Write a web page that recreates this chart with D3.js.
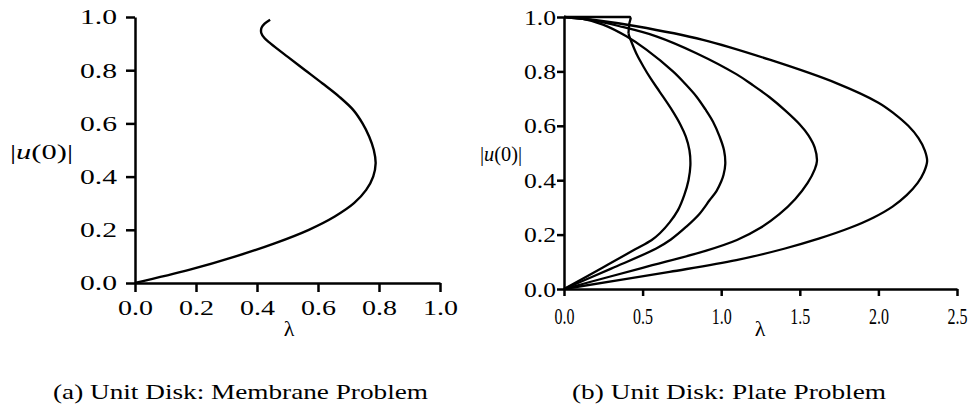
<!DOCTYPE html>
<html>
<head>
<meta charset="utf-8">
<script src="https://cdn.jsdelivr.net/npm/d3@7"></script>
<style>
  body { margin: 0; background: #fff; }
  svg text { font-family: "Liberation Serif", "Times New Roman", serif; fill: #000; }
</style>
</head>
<body>
<div id="chart"></div>
<script>
// membrane problem: one branch
var membraneLambda = [0, 0.18, 0.33, 0.46, 0.57, 0.655, 0.718, 0.758, 0.781, 0.789, 0.783, 0.768, 0.746, 0.716, 0.67, 0.615, 0.558, 0.501, 0.445, 0.425, 0.414, 0.415, 0.425, 0.443]
var membraneU = [0, 0.05, 0.10, 0.15, 0.20, 0.25, 0.30, 0.35, 0.40, 0.45, 0.50, 0.55, 0.60, 0.65, 0.70, 0.75, 0.80, 0.85, 0.90, 0.92, 0.94, 0.96, 0.975, 0.99]

// plate problem: four branches
var plate1Lambda = [0, 0.25, 0.45, 0.556, 0.61, 0.672, 0.725, 0.765, 0.792, 0.804, 0.798, 0.775, 0.74, 0.69, 0.609, 0.55, 0.503, 0.465, 0.435, 0.415, 0.41]
var plate1U = [0, 0.08, 0.145, 0.179, 0.205, 0.245, 0.29, 0.345, 0.40, 0.455, 0.51, 0.56, 0.605, 0.655, 0.725, 0.775, 0.82, 0.86, 0.90, 0.93, 0.94]
var plate1TailLambda = [0.41, 0.415, 0.424, 0.42, 0]
var plate1TailU = [0.94, 0.975, 0.995, 1.0, 1.0]

var plate2Lambda = [0, 0.3, 0.587, 0.68, 0.778, 0.86, 0.927, 0.97, 1.0, 1.015, 1.026, 1.018, 0.99, 0.948, 0.9, 0.842, 0.77, 0.693, 0.524, 0.397, 0.248, 0.121, 0]
var plate2U = [0, 0.075, 0.149, 0.182, 0.229, 0.275, 0.327, 0.36, 0.395, 0.42, 0.46, 0.51, 0.56, 0.615, 0.66, 0.708, 0.755, 0.80, 0.88, 0.929, 0.972, 0.993, 1.0]

var plate3Lambda = [0, 0.5, 0.9, 1.1, 1.25, 1.37, 1.47, 1.55, 1.595, 1.609, 1.595, 1.555, 1.5, 1.41, 1.308, 1.2, 1.096, 0.842, 0.587, 0.354, 0.163, 0]
var plate3U = [0, 0.078, 0.14, 0.18, 0.225, 0.275, 0.33, 0.39, 0.44, 0.47, 0.52, 0.565, 0.605, 0.655, 0.705, 0.75, 0.79, 0.867, 0.929, 0.966, 0.99, 1.0]

var plate4Lambda = [0, 0.672, 1.096, 1.4, 1.62, 1.82, 1.97, 2.09, 2.18, 2.25, 2.29, 2.31, 2.295, 2.255, 2.19, 2.1, 2.0, 1.732, 1.308, 0.884, 0.46, 0.206, 0]
var plate4U = [0, 0.063, 0.106, 0.148, 0.185, 0.225, 0.263, 0.303, 0.345, 0.39, 0.43, 0.47, 0.51, 0.555, 0.60, 0.645, 0.685, 0.757, 0.843, 0.916, 0.966, 0.988, 1.0]

var membraneXTicks = [0, 0.2, 0.4, 0.6, 0.8, 1.0]
var membraneYTicks = [0, 0.2, 0.4, 0.6, 0.8, 1.0]
var plateXTicks = [0, 0.5, 1.0, 1.5, 2.0, 2.5]
var plateYTicks = [0, 0.2, 0.4, 0.6, 0.8, 1.0]

var captions = ["(a) Unit Disk: Membrane Problem", "(b) Unit Disk: Plate Problem"]

function zip(xs, ys) {
    return xs.map((x, i) => { return [x, ys[i]] })
}

var svg = d3.select("#chart")
    .append("svg")
    .attr("width", 971)
    .attr("height", 407)

function draw_panel(opt) {
    var x = d3.scaleLinear().domain(opt.xDomain).range(opt.xRange)
    var y = d3.scaleLinear().domain([0, 1]).range(opt.yRange)
    var g = svg.append("g")

    var line = d3.line()
        .x((d) => { return x(d[0]) })
        .y((d) => { return y(d[1]) })

    opt.series.forEach((s) => {
        line.curve(s.linear ? d3.curveLinear : d3.curveCatmullRom.alpha(0.5))
        g.append("path")
            .attr("fill", "none")
            .attr("stroke", "#000")
            .attr("stroke-width", opt.lineWidth)
            .attr("stroke-linejoin", "round")
            .attr("d", line(s.data))
    })

    var xAxis = g.append("g")
        .attr("transform", "translate(0," + opt.yRange[0] + ")")
        .call(d3.axisBottom(x).tickValues(opt.xTicks).tickSize(opt.tickLen).tickSizeOuter(0).tickFormat(d3.format(".1f")))
    var yAxis = g.append("g")
        .attr("transform", "translate(" + opt.xRange[0] + ",0)")
        .call(d3.axisLeft(y).tickValues(opt.yTicks).tickSize(opt.tickLen).tickSizeOuter(0).tickFormat(d3.format(".1f")))

    g.selectAll(".domain").attr("stroke", "#000").attr("stroke-width", 2.5)
    g.selectAll(".tick line").attr("stroke", "#000").attr("stroke-width", 2.5)

    xAxis.selectAll("text")
        .attr("font-size", opt.xFont)
        .attr("y", opt.xLabelY)
        .attr("dy", 0)
        .attr("textLength", opt.xLabelW)
        .attr("lengthAdjust", "spacingAndGlyphs")
    yAxis.selectAll("text")
        .attr("font-size", opt.yFont)
        .attr("x", -opt.yLabelGap)
        .attr("dy", "0.34em")
        .attr("textLength", opt.yLabelW)
        .attr("lengthAdjust", "spacingAndGlyphs")

    // axis titles
    var yt = g.append("text")
        .attr("x", opt.yTitle[0])
        .attr("y", opt.yTitle[1])
        .attr("font-size", opt.titleSize)
        .attr("textLength", opt.yTitle[2])
        .attr("lengthAdjust", "spacingAndGlyphs")
    yt.append("tspan").text("|")
    yt.append("tspan").attr("font-style", "italic").text("u")
    yt.append("tspan").text("(0)|")

    g.append("text")
        .attr("x", opt.xTitle[0])
        .attr("y", opt.xTitle[1])
        .attr("text-anchor", "middle")
        .attr("font-size", opt.titleSize)
        .text("λ")

    g.append("text")
        .attr("x", opt.caption[0])
        .attr("y", opt.caption[1])
        .attr("font-size", 22)
        .attr("textLength", opt.caption[2])
        .attr("lengthAdjust", "spacingAndGlyphs")
        .text(opt.captionText)
}

draw_panel({
    xDomain: [0, 1], xRange: [135, 440], yRange: [283, 17],
    xTicks: membraneXTicks, yTicks: membraneYTicks,
    tickLen: 9, xFont: 20, yFont: 20, lineWidth: 2.4,
    xLabelY: 32, xLabelW: 35, yLabelGap: 18, yLabelW: 37,
    titleSize: 22,
    yTitle: [10, 159, 63], xTitle: [289, 336],
    caption: [53, 399, 375], captionText: captions[0],
    series: [{ data: zip(membraneLambda, membraneU) }]
})

draw_panel({
    xDomain: [0, 2.5], xRange: [564, 957], yRange: [289, 17],
    xTicks: plateXTicks, yTicks: plateYTicks,
    tickLen: 7, xFont: 23, yFont: 21, lineWidth: 2.3,
    xLabelY: 35, xLabelW: 20, yLabelGap: 8, yLabelW: 32,
    titleSize: 22,
    yTitle: [480, 161, 42], xTitle: [760, 336],
    caption: [572, 399, 314], captionText: captions[1],
    series: [
        { data: zip(plate1Lambda, plate1U) },
        { data: zip(plate1TailLambda, plate1TailU), linear: true },
        { data: zip(plate2Lambda, plate2U) },
        { data: zip(plate3Lambda, plate3U) },
        { data: zip(plate4Lambda, plate4U) }
    ]
})
</script>
</body>
</html>
